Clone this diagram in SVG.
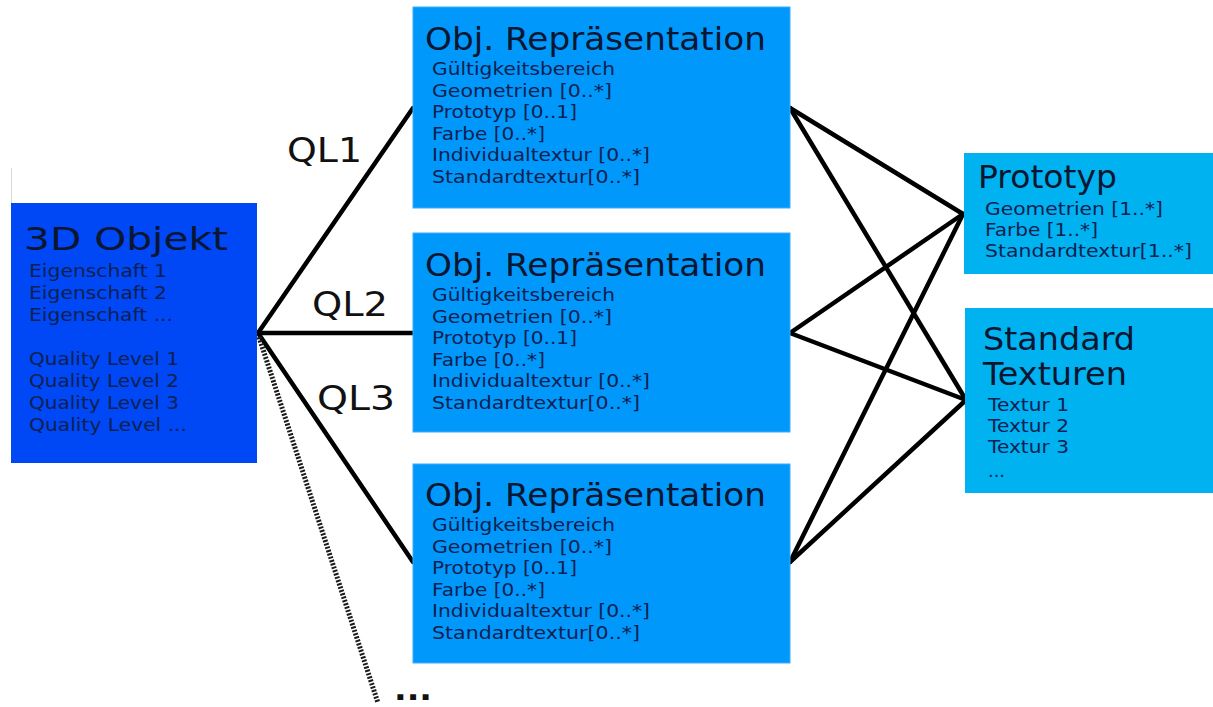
<svg xmlns="http://www.w3.org/2000/svg" width="1213" height="707" viewBox="0 0 1213 707">
<style>
text{font-family:"DejaVu Sans","Liberation Sans",sans-serif;}
.t{font-size:32px;fill:#0b1630;}
.i{font-size:18.5px;fill:#0e2150;}
.ql{font-size:34px;fill:#111;}
.obj{fill:#0047f5;}
.rep{fill:#0098fb;stroke:#3aaeff;stroke-width:1;}
.side{fill:#00b2f0;}
.c{stroke:#000;stroke-width:4.5;fill:none;stroke-linecap:round;}
</style>
<rect width="1213" height="707" fill="#fff"/>
<line x1="11.5" y1="168" x2="11.5" y2="203" stroke="#d6d6d6" stroke-width="1"/>
<g id="connectors">
<line class="c" x1="258" y1="333" x2="413" y2="108"/>
<line class="c" x1="258" y1="333" x2="413" y2="333" stroke-width="4"/>
<line class="c" x1="258" y1="333" x2="413" y2="562"/>
<line x1="259" y1="337" x2="378" y2="703" stroke="#1a1a1a" stroke-width="5" stroke-dasharray="2 1.5"/>
<line class="c" x1="790" y1="108" x2="963" y2="214"/>
<line class="c" x1="790" y1="108" x2="966" y2="400"/>
<line class="c" x1="790" y1="333" x2="963" y2="214"/>
<line class="c" x1="790" y1="333" x2="966" y2="400"/>
<line class="c" x1="790" y1="562" x2="963" y2="214"/>
<line class="c" x1="790" y1="562" x2="966" y2="400"/>
<text class="ql" x="287" y="162" textLength="75" lengthAdjust="spacingAndGlyphs">QL1</text>
<text class="ql" x="312" y="316" textLength="76" lengthAdjust="spacingAndGlyphs">QL2</text>
<text class="ql" x="317" y="410" textLength="78" lengthAdjust="spacingAndGlyphs">QL3</text>
<text x="394" y="700" font-size="30" font-weight="bold" fill="#111" textLength="38" lengthAdjust="spacingAndGlyphs">...</text>
</g>
<g id="objekt3d">
<rect class="obj" x="11" y="203" width="246" height="260"/>
<text class="t" x="24" y="250" font-size="36" textLength="204" lengthAdjust="spacingAndGlyphs">3D Objekt</text>
<g class="i" font-size="19">
<text x="29" y="277" textLength="138" lengthAdjust="spacingAndGlyphs">Eigenschaft 1</text>
<text x="29" y="299" textLength="138" lengthAdjust="spacingAndGlyphs">Eigenschaft 2</text>
<text x="29" y="321" textLength="144" lengthAdjust="spacingAndGlyphs">Eigenschaft ...</text>
<text x="29" y="365" textLength="150" lengthAdjust="spacingAndGlyphs">Quality Level 1</text>
<text x="29" y="387" textLength="150" lengthAdjust="spacingAndGlyphs">Quality Level 2</text>
<text x="29" y="409" textLength="150" lengthAdjust="spacingAndGlyphs">Quality Level 3</text>
<text x="29" y="431" textLength="158" lengthAdjust="spacingAndGlyphs">Quality Level ...</text>
</g>
</g>
<defs>
<g id="repContent">
<text class="t" x="425" y="50" textLength="341" lengthAdjust="spacingAndGlyphs">Obj. Repräsentation</text>
<text class="i" x="432" y="75" textLength="183" lengthAdjust="spacingAndGlyphs">Gültigkeitsbereich</text>
<text class="i" x="432" y="96.5" textLength="180" lengthAdjust="spacingAndGlyphs">Geometrien [0..*]</text>
<text class="i" x="432" y="118" textLength="145" lengthAdjust="spacingAndGlyphs">Prototyp [0..1]</text>
<text class="i" x="432" y="139.5" textLength="113" lengthAdjust="spacingAndGlyphs">Farbe [0..*]</text>
<text class="i" x="432" y="161" textLength="218" lengthAdjust="spacingAndGlyphs">Individualtextur [0..*]</text>
<text class="i" x="432" y="182.5" textLength="208" lengthAdjust="spacingAndGlyphs">Standardtextur[0..*]</text>
</g>
</defs>
<g id="rep1">
<rect class="rep" x="413" y="7" width="377" height="201"/>
<use href="#repContent"/>
</g>
<g id="rep2">
<rect class="rep" x="413" y="233" width="377" height="199"/>
<use href="#repContent" y="226"/>
</g>
<g id="rep3">
<rect class="rep" x="413" y="464" width="377" height="199"/>
<use href="#repContent" y="456"/>
</g>
<g id="prototyp">
<rect class="side" x="964" y="153" width="249" height="121"/>
<text class="t" x="978" y="188" textLength="139" lengthAdjust="spacingAndGlyphs">Prototyp</text>
<text class="i" x="985" y="215" textLength="178" lengthAdjust="spacingAndGlyphs">Geometrien [1..*]</text>
<text class="i" x="985" y="236" textLength="113" lengthAdjust="spacingAndGlyphs">Farbe [1..*]</text>
<text class="i" x="985" y="257" textLength="207" lengthAdjust="spacingAndGlyphs">Standardtextur[1..*]</text>
</g>
<g id="standardtexturen">
<rect class="side" x="965" y="308" width="248" height="185"/>
<text class="t" x="983" y="350" textLength="152" lengthAdjust="spacingAndGlyphs">Standard</text>
<text class="t" x="983" y="385" textLength="144" lengthAdjust="spacingAndGlyphs">Texturen</text>
<text class="i" x="988" y="411" textLength="81" lengthAdjust="spacingAndGlyphs">Textur 1</text>
<text class="i" x="988" y="432" textLength="81" lengthAdjust="spacingAndGlyphs">Textur 2</text>
<text class="i" x="988" y="453" textLength="81" lengthAdjust="spacingAndGlyphs">Textur 3</text>
<text class="i" x="988" y="477" textLength="17" lengthAdjust="spacingAndGlyphs">...</text>
</g>
</svg>
